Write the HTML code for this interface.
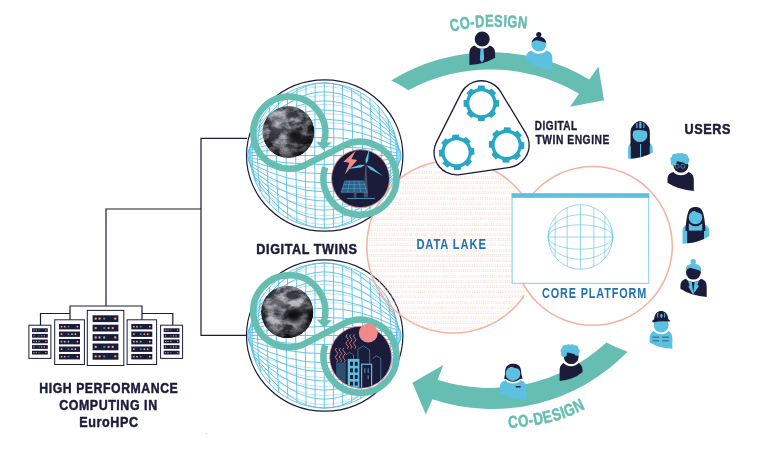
<!DOCTYPE html>
<html lang="en"><head><meta charset="utf-8"><title>Digital Twin Engine</title>
<style>html,body{margin:0;padding:0;background:#fff}body{width:768px;height:463px;overflow:hidden}svg{display:block;will-change:transform}text{font-family:'Liberation Sans', sans-serif}</style>
</head><body>
<svg width="768" height="463" viewBox="0 0 768 463" font-family='"Liberation Sans", sans-serif'>
<defs>
<clipPath id="cc"><circle cx="0" cy="0" r="30.6"/></clipPath>
<radialGradient id="eg" cx="0.42" cy="0.38" r="0.62"><stop offset="0" stop-color="#4a4a52"/><stop offset="0.7" stop-color="#2e2e36"/><stop offset="1" stop-color="#18181e"/></radialGradient>
<radialGradient id="es" cx="0.45" cy="0.42" r="0.58"><stop offset="0.6" stop-color="#000" stop-opacity="0"/><stop offset="1" stop-color="#05050a" stop-opacity="0.7"/></radialGradient><filter id="blur2" x="-0.5" y="-0.5" width="2" height="2"><feGaussianBlur stdDeviation="2.2"/></filter>
<filter id="clouds" x="0" y="0" width="1" height="1"><feTurbulence type="fractalNoise" baseFrequency="0.075 0.11" numOctaves="5" seed="4"/><feColorMatrix type="matrix" values="0 0 0 0 0.62  0 0 0 0 0.62  0 0 0 0 0.66  2.6 2.2 0 0 -2.0"/></filter>
</defs>
<rect width="768" height="463" fill="#fff"/>
<path d="M205.6 434.2l1.6 -1.2" stroke="#c9c9cf" stroke-width="0.7" fill="none"/>
<g fill="none" stroke="#1b1c3a" stroke-width="1.2">
<path d="M247 138.3H201V335.4H247M201 209H106V306M70 320V306H142V320M40.5 325V313.5H70M142 313.5H172.8V325"/>
</g>
<rect x="87.3" y="310.4" width="36.5" height="55.1" fill="#fff" stroke="#1b1c3a" stroke-width="1"/>
<rect x="92.6" y="315.3" width="25.8" height="6.8" fill="#1b1c3a"/>
<circle cx="95.7" cy="318.7" r="1.16" fill="#f2a58c"/>
<circle cx="99.57" cy="318.7" r="1.16" fill="#f2a58c"/>
<circle cx="104.21" cy="318.7" r="1.16" fill="#3a8fa0"/>
<circle cx="115.3" cy="318.7" r="1.16" fill="#f2a58c"/>
<rect x="92.6" y="324.7" width="25.8" height="6.8" fill="#1b1c3a"/>
<circle cx="95.7" cy="328.1" r="1.16" fill="#f2a58c"/>
<circle cx="108.6" cy="328.1" r="1.16" fill="#f2a58c"/>
<circle cx="104.21" cy="328.1" r="1.16" fill="#3a8fa0"/>
<circle cx="112.72" cy="328.1" r="1.16" fill="#f2a58c"/>
<rect x="92.6" y="334.1" width="25.8" height="6.8" fill="#1b1c3a"/>
<circle cx="95.7" cy="337.5" r="1.16" fill="#f2a58c"/>
<circle cx="99.57" cy="337.5" r="1.16" fill="#f2a58c"/>
<circle cx="104.21" cy="337.5" r="1.16" fill="#5fd0b8"/>
<circle cx="115.3" cy="337.5" r="1.16" fill="#f2a58c"/>
<rect x="92.6" y="343.5" width="25.8" height="6.8" fill="#1b1c3a"/>
<circle cx="95.7" cy="346.9" r="1.16" fill="#f2a58c"/>
<circle cx="108.6" cy="346.9" r="1.16" fill="#f2a58c"/>
<circle cx="104.21" cy="346.9" r="1.16" fill="#3a8fa0"/>
<circle cx="112.72" cy="346.9" r="1.16" fill="#f2a58c"/>
<rect x="92.6" y="352.9" width="25.8" height="6.8" fill="#1b1c3a"/>
<circle cx="95.7" cy="356.3" r="1.16" fill="#f2a58c"/>
<circle cx="99.57" cy="356.3" r="1.16" fill="#f2a58c"/>
<circle cx="104.21" cy="356.3" r="1.16" fill="#3a8fa0"/>
<circle cx="115.3" cy="356.3" r="1.16" fill="#f2a58c"/>
<rect x="54.7" y="319.8" width="29.7" height="44.7" fill="#fff" stroke="#1b1c3a" stroke-width="1"/>
<rect x="59" y="324" width="21" height="5.4" fill="#1b1c3a"/>
<circle cx="61.52" cy="326.7" r="0.92" fill="#f2a58c"/>
<circle cx="64.67" cy="326.7" r="0.92" fill="#f2a58c"/>
<circle cx="68.45" cy="326.7" r="0.92" fill="#3a8fa0"/>
<circle cx="77.48" cy="326.7" r="0.92" fill="#f2a58c"/>
<rect x="59" y="331.5" width="21" height="5.4" fill="#1b1c3a"/>
<circle cx="61.52" cy="334.2" r="0.92" fill="#f2a58c"/>
<circle cx="72.02" cy="334.2" r="0.92" fill="#f2a58c"/>
<circle cx="68.45" cy="334.2" r="0.92" fill="#3a8fa0"/>
<circle cx="75.38" cy="334.2" r="0.92" fill="#f2a58c"/>
<rect x="59" y="339" width="21" height="5.4" fill="#1b1c3a"/>
<circle cx="61.52" cy="341.7" r="0.92" fill="#f2a58c"/>
<circle cx="64.67" cy="341.7" r="0.92" fill="#f2a58c"/>
<circle cx="68.45" cy="341.7" r="0.92" fill="#5fd0b8"/>
<circle cx="77.48" cy="341.7" r="0.92" fill="#f2a58c"/>
<rect x="59" y="346.5" width="21" height="5.4" fill="#1b1c3a"/>
<circle cx="61.52" cy="349.2" r="0.92" fill="#f2a58c"/>
<circle cx="72.02" cy="349.2" r="0.92" fill="#f2a58c"/>
<circle cx="68.45" cy="349.2" r="0.92" fill="#3a8fa0"/>
<circle cx="75.38" cy="349.2" r="0.92" fill="#f2a58c"/>
<rect x="59" y="354" width="21" height="5.4" fill="#1b1c3a"/>
<circle cx="61.52" cy="356.7" r="0.92" fill="#f2a58c"/>
<circle cx="64.67" cy="356.7" r="0.92" fill="#f2a58c"/>
<circle cx="68.45" cy="356.7" r="0.92" fill="#3a8fa0"/>
<circle cx="77.48" cy="356.7" r="0.92" fill="#f2a58c"/>
<rect x="127.1" y="319.8" width="29.5" height="44.7" fill="#fff" stroke="#1b1c3a" stroke-width="1"/>
<rect x="131.3" y="324" width="21" height="5.4" fill="#1b1c3a"/>
<circle cx="133.82" cy="326.7" r="0.92" fill="#f2a58c"/>
<circle cx="136.97" cy="326.7" r="0.92" fill="#f2a58c"/>
<circle cx="140.75" cy="326.7" r="0.92" fill="#3a8fa0"/>
<circle cx="149.78" cy="326.7" r="0.92" fill="#f2a58c"/>
<rect x="131.3" y="331.5" width="21" height="5.4" fill="#1b1c3a"/>
<circle cx="133.82" cy="334.2" r="0.92" fill="#f2a58c"/>
<circle cx="144.32" cy="334.2" r="0.92" fill="#f2a58c"/>
<circle cx="140.75" cy="334.2" r="0.92" fill="#3a8fa0"/>
<circle cx="147.68" cy="334.2" r="0.92" fill="#f2a58c"/>
<rect x="131.3" y="339" width="21" height="5.4" fill="#1b1c3a"/>
<circle cx="133.82" cy="341.7" r="0.92" fill="#f2a58c"/>
<circle cx="136.97" cy="341.7" r="0.92" fill="#f2a58c"/>
<circle cx="140.75" cy="341.7" r="0.92" fill="#5fd0b8"/>
<circle cx="149.78" cy="341.7" r="0.92" fill="#f2a58c"/>
<rect x="131.3" y="346.5" width="21" height="5.4" fill="#1b1c3a"/>
<circle cx="133.82" cy="349.2" r="0.92" fill="#f2a58c"/>
<circle cx="144.32" cy="349.2" r="0.92" fill="#f2a58c"/>
<circle cx="140.75" cy="349.2" r="0.92" fill="#3a8fa0"/>
<circle cx="147.68" cy="349.2" r="0.92" fill="#f2a58c"/>
<rect x="131.3" y="354" width="21" height="5.4" fill="#1b1c3a"/>
<circle cx="133.82" cy="356.7" r="0.92" fill="#f2a58c"/>
<circle cx="136.97" cy="356.7" r="0.92" fill="#f2a58c"/>
<circle cx="140.75" cy="356.7" r="0.92" fill="#3a8fa0"/>
<circle cx="149.78" cy="356.7" r="0.92" fill="#f2a58c"/>
<rect x="28.9" y="325.2" width="22" height="33.2" fill="#fff" stroke="#1b1c3a" stroke-width="1"/>
<rect x="32" y="328.3" width="15.8" height="3.8" fill="#1b1c3a"/>
<circle cx="33.9" cy="330.2" r="0.65" fill="#f2a58c"/>
<circle cx="36.27" cy="330.2" r="0.65" fill="#f2a58c"/>
<circle cx="39.11" cy="330.2" r="0.65" fill="#3a8fa0"/>
<circle cx="45.9" cy="330.2" r="0.65" fill="#f2a58c"/>
<rect x="32" y="333.9" width="15.8" height="3.8" fill="#1b1c3a"/>
<circle cx="33.9" cy="335.8" r="0.65" fill="#f2a58c"/>
<circle cx="41.8" cy="335.8" r="0.65" fill="#f2a58c"/>
<circle cx="39.11" cy="335.8" r="0.65" fill="#3a8fa0"/>
<circle cx="44.32" cy="335.8" r="0.65" fill="#f2a58c"/>
<rect x="32" y="339.5" width="15.8" height="3.8" fill="#1b1c3a"/>
<circle cx="33.9" cy="341.4" r="0.65" fill="#f2a58c"/>
<circle cx="36.27" cy="341.4" r="0.65" fill="#f2a58c"/>
<circle cx="39.11" cy="341.4" r="0.65" fill="#5fd0b8"/>
<circle cx="45.9" cy="341.4" r="0.65" fill="#f2a58c"/>
<rect x="32" y="345.1" width="15.8" height="3.8" fill="#1b1c3a"/>
<circle cx="33.9" cy="347" r="0.65" fill="#f2a58c"/>
<circle cx="41.8" cy="347" r="0.65" fill="#f2a58c"/>
<circle cx="39.11" cy="347" r="0.65" fill="#3a8fa0"/>
<circle cx="44.32" cy="347" r="0.65" fill="#f2a58c"/>
<rect x="32" y="350.7" width="15.8" height="3.8" fill="#1b1c3a"/>
<circle cx="33.9" cy="352.6" r="0.65" fill="#f2a58c"/>
<circle cx="36.27" cy="352.6" r="0.65" fill="#f2a58c"/>
<circle cx="39.11" cy="352.6" r="0.65" fill="#3a8fa0"/>
<circle cx="45.9" cy="352.6" r="0.65" fill="#f2a58c"/>
<rect x="160.6" y="325.2" width="22" height="33.2" fill="#fff" stroke="#1b1c3a" stroke-width="1"/>
<rect x="163.7" y="328.3" width="15.8" height="3.8" fill="#1b1c3a"/>
<circle cx="165.6" cy="330.2" r="0.65" fill="#f2a58c"/>
<circle cx="167.97" cy="330.2" r="0.65" fill="#f2a58c"/>
<circle cx="170.81" cy="330.2" r="0.65" fill="#3a8fa0"/>
<circle cx="177.6" cy="330.2" r="0.65" fill="#f2a58c"/>
<rect x="163.7" y="333.9" width="15.8" height="3.8" fill="#1b1c3a"/>
<circle cx="165.6" cy="335.8" r="0.65" fill="#f2a58c"/>
<circle cx="173.5" cy="335.8" r="0.65" fill="#f2a58c"/>
<circle cx="170.81" cy="335.8" r="0.65" fill="#3a8fa0"/>
<circle cx="176.02" cy="335.8" r="0.65" fill="#f2a58c"/>
<rect x="163.7" y="339.5" width="15.8" height="3.8" fill="#1b1c3a"/>
<circle cx="165.6" cy="341.4" r="0.65" fill="#f2a58c"/>
<circle cx="167.97" cy="341.4" r="0.65" fill="#f2a58c"/>
<circle cx="170.81" cy="341.4" r="0.65" fill="#5fd0b8"/>
<circle cx="177.6" cy="341.4" r="0.65" fill="#f2a58c"/>
<rect x="163.7" y="345.1" width="15.8" height="3.8" fill="#1b1c3a"/>
<circle cx="165.6" cy="347" r="0.65" fill="#f2a58c"/>
<circle cx="173.5" cy="347" r="0.65" fill="#f2a58c"/>
<circle cx="170.81" cy="347" r="0.65" fill="#3a8fa0"/>
<circle cx="176.02" cy="347" r="0.65" fill="#f2a58c"/>
<rect x="163.7" y="350.7" width="15.8" height="3.8" fill="#1b1c3a"/>
<circle cx="165.6" cy="352.6" r="0.65" fill="#f2a58c"/>
<circle cx="167.97" cy="352.6" r="0.65" fill="#f2a58c"/>
<circle cx="170.81" cy="352.6" r="0.65" fill="#3a8fa0"/>
<circle cx="177.6" cy="352.6" r="0.65" fill="#f2a58c"/>
<clipPath id="gc1"><ellipse cx="324.7" cy="155.5" rx="77.60000000000001" ry="75.10000000000001"/></clipPath>
<ellipse cx="324.7" cy="155.5" rx="78.2" ry="75.7" fill="#fff" stroke="#1b1c3a" stroke-width="1.2"/>
<g clip-path="url(#gc1)">
<g fill="none" stroke="#58bfe3" stroke-width="0.9">
<path d="M251.5 144.24Q244.22 155.5 251.5 166.76"/>
<path d="M260.6 119.14Q254.23 155.5 260.6 191.86"/>
<path d="M269.7 106.94Q264.24 155.5 269.7 204.06"/>
<path d="M278.8 98.62Q274.25 155.5 278.8 212.38"/>
<path d="M287.9 92.63Q284.26 155.5 287.9 218.37"/>
<path d="M297 88.34Q294.27 155.5 297 222.66"/>
<path d="M306.1 85.44Q304.28 155.5 306.1 225.56"/>
<path d="M315.2 83.75Q314.29 155.5 315.2 227.25"/>
<path d="M324.3 83.2Q324.3 155.5 324.3 227.8"/>
<path d="M333.4 83.75Q334.31 155.5 333.4 227.25"/>
<path d="M342.5 85.44Q344.32 155.5 342.5 225.56"/>
<path d="M351.6 88.34Q354.33 155.5 351.6 222.66"/>
<path d="M360.7 92.63Q364.34 155.5 360.7 218.37"/>
<path d="M369.8 98.62Q374.35 155.5 369.8 212.38"/>
<path d="M378.9 106.94Q384.36 155.5 378.9 204.06"/>
<path d="M388 119.14Q394.37 155.5 388 191.86"/>
<path d="M397.1 144.24Q404.38 155.5 397.1 166.76"/>
<path d="M393.21 129.86Q400.1 155.5 393.21 181.14"/>
<path d="M255.39 129.86Q248.5 155.5 255.39 181.14"/>
<path d="M395.79 137.92Q402.94 155.5 395.79 173.08"/>
<path d="M252.81 137.92Q245.66 155.5 252.81 173.08"/>
<path d="M397.41 146.37Q404.72 155.5 397.41 164.63"/>
<path d="M251.19 146.37Q243.88 155.5 251.19 164.63"/>
<path d="M254.04 133.66Q324.3 31.74 394.56 133.66"/>
<path d="M253.22 136.39Q324.3 47.21 395.38 136.39"/>
<path d="M252.52 139.12Q324.3 62.68 396.08 139.12"/>
<path d="M251.93 141.85Q324.3 78.15 396.67 141.85"/>
<path d="M251.45 144.58Q324.3 93.62 397.15 144.58"/>
<path d="M251.07 147.31Q324.3 109.09 397.53 147.31"/>
<path d="M250.81 150.04Q324.3 124.56 397.79 150.04"/>
<path d="M250.65 152.77Q324.3 140.03 397.95 152.77"/>
<path d="M250.6 155.5Q324.3 155.5 398 155.5"/>
<path d="M250.65 158.23Q324.3 170.97 397.95 158.23"/>
<path d="M250.81 160.96Q324.3 186.44 397.79 160.96"/>
<path d="M251.07 163.69Q324.3 201.91 397.53 163.69"/>
<path d="M251.45 166.42Q324.3 217.38 397.15 166.42"/>
<path d="M251.93 169.15Q324.3 232.85 396.67 169.15"/>
<path d="M252.52 171.88Q324.3 248.32 396.08 171.88"/>
<path d="M253.22 174.61Q324.3 263.79 395.38 174.61"/>
<path d="M254.04 177.34Q324.3 279.26 394.56 177.34"/>
<ellipse cx="324.3" cy="155.5" rx="73.7" ry="72.3"/>
</g>
<g fill="none" stroke="#58bfe3" stroke-width="0.55" opacity="0.75">
<path d="M261.71 117.33Q324.3 54.87 386.89 117.33"/>
<path d="M258.81 122.34Q324.3 68.06 389.79 122.34"/>
<path d="M256.42 127.34Q324.3 81.26 392.18 127.34"/>
<path d="M254.48 132.34Q324.3 94.45 394.12 132.34"/>
<path d="M252.96 137.35Q324.3 107.65 395.64 137.35"/>
<path d="M252.96 173.65Q324.3 203.35 395.64 173.65"/>
<path d="M254.48 178.66Q324.3 216.54 394.12 178.66"/>
<path d="M256.42 183.66Q324.3 229.74 392.18 183.66"/>
<path d="M258.81 188.66Q324.3 242.94 389.79 188.66"/>
<path d="M261.71 193.67Q324.3 256.13 386.89 193.67"/>
</g>
</g>
<clipPath id="gc2"><ellipse cx="324.7" cy="335.5" rx="77.60000000000001" ry="75.10000000000001"/></clipPath>
<ellipse cx="324.7" cy="335.5" rx="78.2" ry="75.7" fill="#fff" stroke="#1b1c3a" stroke-width="1.2"/>
<g clip-path="url(#gc2)">
<g fill="none" stroke="#58bfe3" stroke-width="0.9">
<path d="M251.5 324.24Q244.22 335.5 251.5 346.76"/>
<path d="M260.6 299.14Q254.23 335.5 260.6 371.86"/>
<path d="M269.7 286.94Q264.24 335.5 269.7 384.06"/>
<path d="M278.8 278.62Q274.25 335.5 278.8 392.38"/>
<path d="M287.9 272.63Q284.26 335.5 287.9 398.37"/>
<path d="M297 268.34Q294.27 335.5 297 402.66"/>
<path d="M306.1 265.44Q304.28 335.5 306.1 405.56"/>
<path d="M315.2 263.75Q314.29 335.5 315.2 407.25"/>
<path d="M324.3 263.2Q324.3 335.5 324.3 407.8"/>
<path d="M333.4 263.75Q334.31 335.5 333.4 407.25"/>
<path d="M342.5 265.44Q344.32 335.5 342.5 405.56"/>
<path d="M351.6 268.34Q354.33 335.5 351.6 402.66"/>
<path d="M360.7 272.63Q364.34 335.5 360.7 398.37"/>
<path d="M369.8 278.62Q374.35 335.5 369.8 392.38"/>
<path d="M378.9 286.94Q384.36 335.5 378.9 384.06"/>
<path d="M388 299.14Q394.37 335.5 388 371.86"/>
<path d="M397.1 324.24Q404.38 335.5 397.1 346.76"/>
<path d="M393.21 309.86Q400.1 335.5 393.21 361.14"/>
<path d="M255.39 309.86Q248.5 335.5 255.39 361.14"/>
<path d="M395.79 317.92Q402.94 335.5 395.79 353.08"/>
<path d="M252.81 317.92Q245.66 335.5 252.81 353.08"/>
<path d="M397.41 326.37Q404.72 335.5 397.41 344.63"/>
<path d="M251.19 326.37Q243.88 335.5 251.19 344.63"/>
<path d="M254.04 313.66Q324.3 211.74 394.56 313.66"/>
<path d="M253.22 316.39Q324.3 227.21 395.38 316.39"/>
<path d="M252.52 319.12Q324.3 242.68 396.08 319.12"/>
<path d="M251.93 321.85Q324.3 258.15 396.67 321.85"/>
<path d="M251.45 324.58Q324.3 273.62 397.15 324.58"/>
<path d="M251.07 327.31Q324.3 289.09 397.53 327.31"/>
<path d="M250.81 330.04Q324.3 304.56 397.79 330.04"/>
<path d="M250.65 332.77Q324.3 320.03 397.95 332.77"/>
<path d="M250.6 335.5Q324.3 335.5 398 335.5"/>
<path d="M250.65 338.23Q324.3 350.97 397.95 338.23"/>
<path d="M250.81 340.96Q324.3 366.44 397.79 340.96"/>
<path d="M251.07 343.69Q324.3 381.91 397.53 343.69"/>
<path d="M251.45 346.42Q324.3 397.38 397.15 346.42"/>
<path d="M251.93 349.15Q324.3 412.85 396.67 349.15"/>
<path d="M252.52 351.88Q324.3 428.32 396.08 351.88"/>
<path d="M253.22 354.61Q324.3 443.79 395.38 354.61"/>
<path d="M254.04 357.34Q324.3 459.26 394.56 357.34"/>
<ellipse cx="324.3" cy="335.5" rx="73.7" ry="72.3"/>
</g>
<g fill="none" stroke="#58bfe3" stroke-width="0.55" opacity="0.75">
<path d="M261.71 297.33Q324.3 234.87 386.89 297.33"/>
<path d="M258.81 302.33Q324.3 248.06 389.79 302.33"/>
<path d="M256.42 307.34Q324.3 261.26 392.18 307.34"/>
<path d="M254.48 312.35Q324.3 274.46 394.12 312.35"/>
<path d="M252.96 317.35Q324.3 287.65 395.64 317.35"/>
<path d="M252.96 353.65Q324.3 383.35 395.64 353.65"/>
<path d="M254.48 358.65Q324.3 396.54 394.12 358.65"/>
<path d="M256.42 363.66Q324.3 409.74 392.18 363.66"/>
<path d="M258.81 368.67Q324.3 422.94 389.79 368.67"/>
<path d="M261.71 373.67Q324.3 436.13 386.89 373.67"/>
</g>
</g>
<clipPath id="dl"><circle cx="453.2" cy="246.6" r="86.4"/></clipPath>
<g clip-path="url(#dl)" font-family="Liberation Mono, monospace" font-size="4.4" fill="#f8d3c5" opacity="0.8">
<text x="365.79999999999995" y="163.2" textLength="174.8" lengthAdjust="spacingAndGlyphs">10100010000110001000010000110010001000011111110000111110010101100111</text>
<text x="365.79999999999995" y="168.4" textLength="174.8" lengthAdjust="spacingAndGlyphs">11001100111110110010010011100111011111000000001011001110011111011000</text>
<text x="365.79999999999995" y="173.6" textLength="174.8" lengthAdjust="spacingAndGlyphs">01001000001000101111001111100011100010010110101000100110011101111000</text>
<text x="365.79999999999995" y="178.8" textLength="174.8" lengthAdjust="spacingAndGlyphs">01010101100101011011100000010110000001000101011100111000100000100110</text>
<text x="365.79999999999995" y="184" textLength="174.8" lengthAdjust="spacingAndGlyphs">00010010011011101010101110010010010101001100011110110101110111000001</text>
<text x="365.79999999999995" y="189.2" textLength="174.8" lengthAdjust="spacingAndGlyphs">10010111011010010100100010101110000010001101101101000010101111001001</text>
<text x="365.79999999999995" y="194.4" textLength="174.8" lengthAdjust="spacingAndGlyphs">10000110001101010011011110010100110110000100101011000111010010000000</text>
<text x="365.79999999999995" y="199.6" textLength="174.8" lengthAdjust="spacingAndGlyphs">10110001101000110100011101100001110010110011111100101011011100000110</text>
<text x="365.79999999999995" y="204.8" textLength="174.8" lengthAdjust="spacingAndGlyphs">10101110001111011110101110001110110111010010011101101000110110001111</text>
<text x="365.79999999999995" y="210" textLength="174.8" lengthAdjust="spacingAndGlyphs">11110111000001011110000010101100111011101110001011111000111001110000</text>
<text x="365.79999999999995" y="215.2" textLength="174.8" lengthAdjust="spacingAndGlyphs">00100000010110001011000111101000110001101011010111100100101001011010</text>
<text x="365.79999999999995" y="220.4" textLength="174.8" lengthAdjust="spacingAndGlyphs">01100100001000111000100101111100001011001111001011011101010101001001</text>
<text x="365.79999999999995" y="225.6" textLength="174.8" lengthAdjust="spacingAndGlyphs">11101111000001111110100100111100100100110100100011100011001111111010</text>
<text x="365.79999999999995" y="230.8" textLength="174.8" lengthAdjust="spacingAndGlyphs">00001010110001000101101000000101100100110001000111010001101010001111</text>
<text x="365.79999999999995" y="236" textLength="174.8" lengthAdjust="spacingAndGlyphs">11011110101100101001110000010100110000110100110100010100010110000001</text>
<text x="365.79999999999995" y="241.2" textLength="174.8" lengthAdjust="spacingAndGlyphs">01111101111100011011011000111010000100100000011000110111011010110001</text>
<text x="365.79999999999995" y="246.4" textLength="174.8" lengthAdjust="spacingAndGlyphs">01110100110111111011010001111000011110010000011010110011000001000111</text>
<text x="365.79999999999995" y="251.6" textLength="174.8" lengthAdjust="spacingAndGlyphs">00111000000100000000101010101011101000100011011110000100010110111001</text>
<text x="365.79999999999995" y="256.8" textLength="174.8" lengthAdjust="spacingAndGlyphs">01010000000010000000001001000000001100001111101110111101010110001010</text>
<text x="365.79999999999995" y="262" textLength="174.8" lengthAdjust="spacingAndGlyphs">01001101011101001000101101101010111010100110110111001100110001100101</text>
<text x="365.79999999999995" y="267.2" textLength="174.8" lengthAdjust="spacingAndGlyphs">00001001111000101100110110011001100001111010101111010101100100010101</text>
<text x="365.79999999999995" y="272.4" textLength="174.8" lengthAdjust="spacingAndGlyphs">01111001010111100011110011011000001001111011011110101101111101011001</text>
<text x="365.79999999999995" y="277.6" textLength="174.8" lengthAdjust="spacingAndGlyphs">01000011000011001001010010011001101101010001111111100100010110001010</text>
<text x="365.79999999999995" y="282.8" textLength="174.8" lengthAdjust="spacingAndGlyphs">11101111101111111101010110001101100001010000100001001011101010101001</text>
<text x="365.79999999999995" y="288" textLength="174.8" lengthAdjust="spacingAndGlyphs">11001011001000100000001010100100111100000011101011110001011111111010</text>
<text x="365.79999999999995" y="293.2" textLength="174.8" lengthAdjust="spacingAndGlyphs">01101110110111100100111011001011010110100111100000011110001101100101</text>
<text x="365.79999999999995" y="298.4" textLength="174.8" lengthAdjust="spacingAndGlyphs">10000101110101010010000111010011001010100001100011000100110111110111</text>
<text x="365.79999999999995" y="303.6" textLength="174.8" lengthAdjust="spacingAndGlyphs">01000100000101010011101010100010101110001110110111000011010111000111</text>
<text x="365.79999999999995" y="308.8" textLength="174.8" lengthAdjust="spacingAndGlyphs">00100110101011010100000000110000100010111100110100100101100101101011</text>
<text x="365.79999999999995" y="314" textLength="174.8" lengthAdjust="spacingAndGlyphs">00000000011000010101010001011100010000110011010111011110101010100011</text>
<text x="365.79999999999995" y="319.2" textLength="174.8" lengthAdjust="spacingAndGlyphs">00001110001100100100101100010101001111001101011111100100110100111110</text>
<text x="365.79999999999995" y="324.4" textLength="174.8" lengthAdjust="spacingAndGlyphs">10000110111000111001011010010110110111111111101111010110011010100011</text>
<text x="365.79999999999995" y="329.6" textLength="174.8" lengthAdjust="spacingAndGlyphs">11111110110000111001111100111010011101001000101001011000001100100000</text>
<text x="365.79999999999995" y="334.8" textLength="174.8" lengthAdjust="spacingAndGlyphs">00011100100110010010110001010000000101111100101111000001100111011110</text>
</g>
<circle cx="453.2" cy="246.6" r="86.4" fill="none" stroke="#f3b5a0" stroke-width="1.6"/>
<rect x="524.3" y="284" width="24" height="14.2" fill="#fff"/>
<circle cx="592.9" cy="245.9" r="79.4" fill="#fff" stroke="#f3b5a0" stroke-width="1.6"/>
<rect x="512.1" y="194" width="136.6" height="89.3" fill="#fff" stroke="#7fcde8" stroke-width="1"/>
<rect x="511.6" y="193.3" width="137.6" height="4.5" fill="#5cc0e0"/>
<g fill="none" stroke="#58bfe3" stroke-width="0.6">
<circle cx="580.5" cy="237" r="32.3"/>
<line x1="555.1" y1="217.05" x2="555.1" y2="256.95"/>
<line x1="567.2" y1="207.57" x2="567.2" y2="266.43"/>
<line x1="580.5" y1="204.7" x2="580.5" y2="269.3"/>
<line x1="593.8" y1="207.57" x2="593.8" y2="266.43"/>
<line x1="604.9" y1="215.84" x2="604.9" y2="258.16"/>
<line x1="548.2" y1="237" x2="612.8" y2="237"/>
<ellipse cx="580.5" cy="237" rx="32.3" ry="12.2"/>
<ellipse cx="580.5" cy="237" rx="32.3" ry="22.3"/>
</g>
<path d="M323.73 143.13A36 36 0 1 0 305.4 164.8L343.67 145.66A36.5 36.5 0 1 1 325.19 167.32" fill="none" stroke="#65beb1" stroke-width="6.5"/>
<polygon points="316,141.7 331.8,142.5 323.2,149.9" fill="#65beb1"/>
<clipPath id="ec1"><circle cx="288.4" cy="132" r="26"/></clipPath>
<g clip-path="url(#ec1)">
<circle cx="288.4" cy="132" r="26" fill="url(#eg)"/>
<rect x="262.4" y="106" width="52" height="52" filter="url(#clouds)" opacity="0.85"/>
<ellipse cx="295.4" cy="136" rx="8.5" ry="7" fill="#08080e" opacity="0.9" filter="url(#blur2)"/>
<ellipse cx="279.4" cy="122" rx="9" ry="5" fill="#c8c8d0" opacity="0.3" filter="url(#blur2)" transform="rotate(-25 279.4 122)"/>
<circle cx="288.4" cy="132" r="26" fill="url(#es)"/>
</g>
<circle cx="360.5" cy="178.6" r="29" fill="#1b1c3a" stroke="#f08a8a" stroke-width="0.8"/>
<g transform="translate(360.5,178.6)">
<polygon points="-4.7,-28 -17.1,-16.9 -11.1,-15.8 -15.7,-4.1 -3.3,-18.6 -9,-19.5" fill="#f08a8a"/>
<polygon points="4.7,-13.8 5.9,-13.8 7.6,18.6 3.2,18.6" fill="#4b4c6c"/>
<polygon points="5.3,-13.8 7.67,-18.28 8.8,-29.7 5.03,-18.86" fill="#5cc0e0"/>
<polygon points="5.3,-13.8 9.69,-9.34 22.4,-2.7 11.17,-11.6" fill="#5cc0e0"/>
<polygon points="5.3,-13.8 -0.58,-13.83 -13.3,-9.5 0.02,-11.19" fill="#5cc0e0"/>
<circle cx="5.3" cy="-13.8" r="1.3" fill="#1b1c3a"/>
<polygon points="-15.7,2.3 3.1,2.3 6.7,13.7 -19.4,13.7" fill="#2c5f86"/>
<g stroke="#63b7d8" stroke-width="0.55" fill="none" opacity="0.85">
<line x1="-15.7" y1="2.3" x2="3.1" y2="2.3"/>
<line x1="-16.92" y1="6.06" x2="4.29" y2="6.06"/>
<line x1="-18.14" y1="9.82" x2="5.48" y2="9.82"/>
<line x1="-19.4" y1="13.7" x2="6.7" y2="13.7"/>
<line x1="-15.7" y1="2.3" x2="-19.4" y2="13.7"/>
<line x1="-11" y1="2.3" x2="-12.87" y2="13.7"/>
<line x1="-6.3" y1="2.3" x2="-6.35" y2="13.7"/>
<line x1="-1.6" y1="2.3" x2="0.18" y2="13.7"/>
<line x1="3.1" y1="2.3" x2="6.7" y2="13.7"/>
</g>
<rect x="-6.8" y="13.9" width="2.8" height="5" fill="#4b4c6c"/>
<line x1="-13.3" y1="19.9" x2="14.5" y2="19.9" stroke="#5cc0e0" stroke-width="0.7"/>
</g>
<path d="M323.73 321.73A36 36 0 1 0 305.81 343.19L343.26 323.86A36.5 36.5 0 1 1 325.19 345.32" fill="none" stroke="#65beb1" stroke-width="6.5"/>
<polygon points="316.7,319.4 331.8,320.2 324.2,328" fill="#65beb1"/>
<clipPath id="ec2"><circle cx="287.2" cy="312" r="26.2"/></clipPath>
<g clip-path="url(#ec2)">
<circle cx="287.2" cy="312" r="26.2" fill="url(#eg)"/>
<rect x="261" y="285.8" width="52.4" height="52.4" filter="url(#clouds)" opacity="0.85"/>
<ellipse cx="294.2" cy="316" rx="8.5" ry="7" fill="#08080e" opacity="0.9" filter="url(#blur2)"/>
<ellipse cx="278.2" cy="302" rx="9" ry="5" fill="#c8c8d0" opacity="0.3" filter="url(#blur2)" transform="rotate(-25 278.2 302)"/>
<circle cx="287.2" cy="312" r="26.2" fill="url(#es)"/>
</g>
<circle cx="360.6" cy="357.2" r="31" fill="#1b1c3a" stroke="#f08a8a" stroke-width="0.8"/>
<g transform="translate(360.6,357.2)">
<g clip-path="url(#cc)">
<g fill="none" stroke="#f08a8a" stroke-width="0.85">
<path d="M-13.4 -22.8q-2.6 1.8 0 3.6t0 3.6t0 3.6t0 3.6"/>
<path d="M-9.8 -22.8q-2.6 1.8 0 3.6t0 3.6t0 3.6t0 3.6"/>
<path d="M-5.9 -22.8q-2.6 1.8 0 3.6t0 3.6t0 3.6t0 3.6"/>
<path d="M-24 -9.2q-2.6 1.8 0 3.6t0 3.6t0 3.6t0 3.6"/>
<path d="M-20.2 -9.2q-2.6 1.8 0 3.6t0 3.6t0 3.6t0 3.6"/>
<path d="M-16.6 -9.2q-2.6 1.8 0 3.6t0 3.6t0 3.6t0 3.6"/>
</g>
<g fill="none" stroke="#4fa8cc" stroke-width="0.6">
<path d="M-15 -2.2L-11.2 -4.9L-7 -2.3V2"/>
<path d="M-2.7 2V-8L3 -11.4L9 -7.2V7"/>
<path d="M11.9 1.2L15.9 -1.3L20.2 1.2V24"/>
</g>
<rect x="-24.5" y="5.4" width="9.7" height="30" fill="#2d4f70"/>
<rect x="-12.9" y="1.7" width="11.7" height="34" fill="#5cc0e0"/>
<g fill="#1b1c3a">
<rect x="-10.5" y="4.6" width="2.85" height="4"/>
<rect x="-5.8" y="4.6" width="2.85" height="4"/>
<rect x="-10.5" y="11.2" width="2.85" height="4"/>
<rect x="-5.8" y="11.2" width="2.85" height="4"/>
<rect x="-10.5" y="17.8" width="2.85" height="4"/>
<rect x="-5.8" y="17.8" width="2.85" height="4"/>
<rect x="-10.5" y="24.4" width="2.85" height="4"/>
<rect x="-5.8" y="24.4" width="2.85" height="4"/>
<rect x="-10.5" y="31" width="2.85" height="4"/>
<rect x="-5.8" y="31" width="2.85" height="4"/>
</g>
<rect x="1" y="7" width="10" height="30" fill="#1b1c3a" stroke="#5cc0e0" stroke-width="1.2"/>
<path d="M4.2 11v4.6M7.6 11v4.6M7.6 18.2v3.8" stroke="#5cc0e0" stroke-width="0.8" fill="none"/>
</g>
<circle cx="7.7" cy="-24.2" r="9.5" fill="#f08a8a"/>
</g>
<path d="M481.3 103.3L456.6 152.3L506.6 145Z" fill="#1b1c3a" stroke="#1b1c3a" stroke-width="46.4" stroke-linejoin="round"/>
<path d="M481.3 103.3L456.6 152.3L506.6 145Z" fill="#fff" stroke="#fff" stroke-width="43.8" stroke-linejoin="round"/>
<path d="M499.01 100.07L499.01 106.53L496.37 106.92L494.52 111.4L496.11 113.53L491.53 118.11L489.4 116.52L484.92 118.37L484.53 121.01L478.07 121.01L477.68 118.37L473.2 116.52L471.07 118.11L466.49 113.53L468.08 111.4L466.23 106.92L463.59 106.53L463.59 100.07L466.23 99.68L468.08 95.2L466.49 93.07L471.07 88.49L473.2 90.08L477.68 88.23L478.07 85.59L484.53 85.59L484.92 88.23L489.4 90.08L491.53 88.49L496.11 93.07L494.52 95.2L496.37 99.68ZM493.3 103.3A12 12 0 1 0 469.3 103.3A12 12 0 1 0 493.3 103.3Z" fill="#27a7c4" fill-rule="evenodd"/>
<path d="M474.08 148.01L474.47 154.47L471.86 155.01L470.28 159.59L471.99 161.63L467.7 166.47L465.48 165.01L461.12 167.13L460.89 169.78L454.43 170.17L453.89 167.56L449.31 165.98L447.27 167.69L442.43 163.4L443.89 161.18L441.77 156.82L439.12 156.59L438.73 150.13L441.34 149.59L442.92 145.01L441.21 142.97L445.5 138.13L447.72 139.59L452.08 137.47L452.31 134.82L458.77 134.43L459.31 137.04L463.89 138.62L465.93 136.91L470.77 141.2L469.31 143.42L471.43 147.78ZM468.6 152.3A12 12 0 1 0 444.6 152.3A12 12 0 1 0 468.6 152.3Z" fill="#27a7c4" fill-rule="evenodd"/>
<path d="M524.42 142.48L524.16 148.94L521.51 149.22L519.48 153.62L520.99 155.82L516.23 160.2L514.16 158.53L509.61 160.2L509.12 162.82L502.66 162.56L502.38 159.91L497.98 157.88L495.78 159.39L491.4 154.63L493.07 152.56L491.4 148.01L488.78 147.52L489.04 141.06L491.69 140.78L493.72 136.38L492.21 134.18L496.97 129.8L499.04 131.47L503.59 129.8L504.08 127.18L510.54 127.44L510.82 130.09L515.22 132.12L517.42 130.61L521.8 135.37L520.13 137.44L521.8 141.99ZM518.6 145A12 12 0 1 0 494.6 145A12 12 0 1 0 518.6 145Z" fill="#27a7c4" fill-rule="evenodd"/>
<path d="M391.1 80.58A190.0 190.0 0 0 1 589.24 79.57L598.4 66.6L604 100.3L570 106.8L578.94 93.7A173.1 173.1 0 0 0 408.28 90.17Q400.59 84.88 391.1 80.58Z" fill="#65beb1"/>
<path d="M437.5 379.69A172.0 172.0 0 0 0 606.42 342.51Q616.1 347.69 627.57 351.86A188.7 188.7 0 0 1 432.42 399.25L425.8 414.6L412.4 382.8L443.3 365.1Z" fill="#65beb1"/>
<g transform="translate(482.2,39)">
<path d="M-12.8 26L-12.8 14.6C-12.8 9.8 -10.6 7.5 -7.6 6.6A10.5 10.5 0 0 0 7.6 6.6C10.7 7.5 12.9 9.8 12.9 14.6L12.9 18.8Q2.05 25.38 -12.8 26Z" fill="#1b1c3a"/>
<circle cx="0" cy="0" r="7.5" fill="#1b1c3a"/>
<path d="M-1.7 10.1h3.1l0.5 10.6l-2.2 3l-2 -3z" fill="#5cc0e0"/>
</g>
<g transform="translate(538.9,44)">
<path d="M-12.8 16.8L-12.8 14.6C-12.8 9.8 -10.6 7.5 -7.6 6.6A10.5 10.5 0 0 0 7.6 6.6C11.2 7.5 13.4 9.8 13.4 14.6L13.4 25.8Q-1.7 24.87 -12.8 16.8Z" fill="#5cc0e0"/>
<circle cx="0" cy="0" r="7.5" fill="#5cc0e0"/>
<path d="M-7.4 -1.3A7.5 7.5 0 0 1 7.4 -1.3Q3 -2.2 1.5 -2.9Q-1 -3.8 -2.8 -3.8Q-5.5 -3.4 -7.4 -1.3Z" fill="#1b1c3a"/><circle cx="-0.1" cy="-9.5" r="2.6" fill="#1b1c3a"/>
</g>
<g transform="translate(640,134.7)">
<clipPath id="pb3"><path d="M-11.9 24.1L-11.9 15.2C-11.9 10.4 -9.7 8.1 -7.6 7.2A10.5 10.5 0 0 0 7.6 7.2C10.6 8.1 12.8 10.4 12.8 15.2L12.8 17.9Q2.45 23.65 -11.9 24.1Z"/></clipPath>
<path d="M-11.9 24.1L-11.9 15.2C-11.9 10.4 -9.7 8.1 -7.6 7.2A10.5 10.5 0 0 0 7.6 7.2C10.6 8.1 12.8 10.4 12.8 15.2L12.8 17.9Q2.45 23.65 -11.9 24.1Z" fill="#5cc0e0"/>
<g clip-path="url(#pb3)"><path d="M-9.2 0h18.9v30h-18.9z" fill="#1b1c3a"/></g>
<path d="M-9.5 11.5L-9.5 -2C-9.5 -5.6 -8.4 -7.6 -6.8 -9.4C-4.8 -12.2 -2.5 -13.5 0.3 -13.5S5.2 -12.2 7.2 -9.4C8.8 -7.6 9.9 -5.6 9.9 -2L9.9 11.5Z" fill="#1b1c3a"/>
<circle cx="0" cy="0" r="7.4" fill="#5cc0e0"/>
<path d="M-7.7 -3.6Q0 -6.2 7.7 -3.2L8.6 -7Q4 -13.6 0.3 -13.5Q-4.5 -13.6 -8.2 -7Z" fill="#1b1c3a"/><path d="M-3.7 -11.6h1.2v4.8h-1.2zM-0.7 -12.7h2.1v6.2h-2.1zM3.4 -11.4h1v4.6h-1zM0 9.4h1v12.7h-1z" fill="#5cc0e0"/>
</g>
<g transform="translate(680.9,165.3)">
<path d="M-13.4 17.5L-13.4 14.6C-13.4 9.8 -11.2 7.5 -7.6 6.6A10.5 10.5 0 0 0 7.6 6.6C10.7 7.5 12.9 9.8 12.9 14.6L12.9 25.6Q-2.25 24.82 -13.4 17.5Z" fill="#1b1c3a"/>
<circle cx="0" cy="0" r="7.5" fill="#1b1c3a"/>
<g fill="#5cc0e0"><path d="M-8.6 -0.6L-3.6 -4.1L7.3 -1.6L6.5 -8L0 -10.5L-7 -8.5Z"/><circle cx="-7.2" cy="-2.6" r="2.9"/><circle cx="-8" cy="-6" r="2.6"/><circle cx="-6" cy="-8.6" r="3"/><circle cx="-2.6" cy="-9.6" r="2.8"/><circle cx="1" cy="-9.8" r="2.6"/><circle cx="4.2" cy="-8.6" r="2.8"/><circle cx="5.9" cy="-5.8" r="2.6"/><circle cx="5.6" cy="-3.2" r="2.2"/></g><g fill="none" stroke="#5cc0e0" stroke-width="0.65"><rect x="-5.7" y="-0.9" width="3.7" height="3.7" rx="1.2"/><rect x="0.2" y="-0.9" width="3.7" height="3.7" rx="1.2"/></g>
</g>
<g transform="translate(695.5,217.5)">
<clipPath id="pb5"><path d="M-13 26.3L-13 14.6C-13 9.8 -10.8 7.5 -7.6 6.6A10.5 10.5 0 0 0 7.6 6.6C11.6 7.5 13.8 9.8 13.8 14.6L13.8 18.7Q2.4 25.61 -13 26.3Z"/></clipPath>
<path d="M-13 26.3L-13 14.6C-13 9.8 -10.8 7.5 -7.6 6.6A10.5 10.5 0 0 0 7.6 6.6C11.6 7.5 13.8 9.8 13.8 14.6L13.8 18.7Q2.4 25.61 -13 26.3Z" fill="#5cc0e0"/>
<g clip-path="url(#pb5)"><path d="M-8.3 12.8h16.8v20h-16.8z" fill="#1b1c3a"/></g>
<path d="M-6.8 5h13.6v8h-13.6z" fill="#5cc0e0"/><path d="M-10 13.4C-9.6 4 -8.6 -1 -7.6 -4.5C-6 -9.6 -3 -10.4 0 -10.4S6 -9.6 7.6 -4.5C8.6 -1 9.6 4 10 13.4L6.7 13.4L6.7 6Q0 11.6 -6.7 6L-6.7 13.4Z" fill="#1b1c3a"/>
<circle cx="0" cy="0" r="6.8" fill="#5cc0e0"/>
<path d="M-3.4 -8.2Q1 -4.4 7 -3.2Q6.6 -7.5 3 -9.2Q0 -10.2 -3.4 -8.2Z" fill="#1b1c3a"/>
</g>
<g transform="translate(693.4,272.2)">
<clipPath id="pb6"><path d="M-13 16.6L-13 14.6C-13 9.8 -10.8 7.5 -7.6 6.6A10.5 10.5 0 0 0 7.6 6.6C11.1 7.5 13.3 9.8 13.3 14.6L13.3 24.7Q-1.85 23.92 -13 16.6Z"/></clipPath>
<path d="M-13 16.6L-13 14.6C-13 9.8 -10.8 7.5 -7.6 6.6A10.5 10.5 0 0 0 7.6 6.6C11.1 7.5 13.3 9.8 13.3 14.6L13.3 24.7Q-1.85 23.92 -13 16.6Z" fill="#1b1c3a"/>
<g clip-path="url(#pb6)"><path d="M-6.6 5L-3.8 13.3L-5 14.3L-0.5 22.2L5.5 14.1L4 12.8L6.6 5Q0 11 -6.6 5Z" fill="#5cc0e0"/><path d="M-1.6 9.4h2.8L-0.2 21Z" fill="#1b1c3a"/></g>
<circle cx="0" cy="0" r="7.4" fill="#1b1c3a"/>
<path d="M-7.7 -1.6C-8.4 -6 -5 -8.4 0 -8.4S8.4 -6 7.7 -1.2Q3 -2.6 -3.2 -4.4Q-5.6 -3.6 -7.7 -1.6Z" fill="#5cc0e0"/><circle cx="-0.2" cy="-10.5" r="2.7" fill="#5cc0e0"/>
</g>
<g transform="translate(661.2,325)">
<clipPath id="pb7"><path d="M-11.6 17.6L-11.6 13.9C-11.6 9.1 -9.4 6.8 -7.6 5.9A10.5 10.5 0 0 0 7.6 5.9C9 6.8 11.2 9.1 11.2 13.9L11.2 23.8Q-2.2 23.35 -11.6 17.6Z"/></clipPath>
<path d="M-11.6 17.6L-11.6 13.9C-11.6 9.1 -9.4 6.8 -7.6 5.9A10.5 10.5 0 0 0 7.6 5.9C9 6.8 11.2 9.1 11.2 13.9L11.2 23.8Q-2.2 23.35 -11.6 17.6Z" fill="#5cc0e0"/>
<g clip-path="url(#pb7)"><path d="M-8.6 11.5h6.4v1.5h-6.4zM0.9 11.5h6.7v1.5h-6.7zM-8.6 15h6.4v1.5h-6.4zM0.9 15h6.7v1.5h-6.7z" fill="#3d7f9a"/></g>
<circle cx="0" cy="0" r="7.5" fill="#5cc0e0"/>
<path d="M-9.1 -4.3Q-7.4 -5 -7 -6.6C-6.4 -11.6 -3.4 -14 0 -14S6.4 -11.6 7 -6.6Q7.4 -5 9.2 -4.3L8.6 -3.4Q0 -4.6 -7.8 -2.6Q-9.5 -3.4 -9.1 -4.3Z" fill="#1b1c3a"/><ellipse cx="0.2" cy="-9.2" rx="1.2" ry="1.9" fill="#5cc0e0"/><path d="M-3.9 -12h0.9v4.6h-0.9zM3 -12h0.9v4.6h-0.9z" fill="#5cc0e0"/>
</g>
<g transform="translate(513,373.7)">
<clipPath id="pb8"><path d="M-13.2 19.5L-13.2 14.6C-13.2 9.8 -11 7.5 -7.6 6.6A10.5 10.5 0 0 0 7.6 6.6C11.3 7.5 13.5 9.8 13.5 14.6L13.5 26.1Q-1.85 25.58 -13.2 19.5Z"/></clipPath>
<path d="M-13.2 19.5L-13.2 14.6C-13.2 9.8 -11 7.5 -7.6 6.6A10.5 10.5 0 0 0 7.6 6.6C11.3 7.5 13.5 9.8 13.5 14.6L13.5 26.1Q-1.85 25.58 -13.2 19.5Z" fill="#5cc0e0"/>
<g clip-path="url(#pb8)"><rect x="2.8" y="12.3" width="4.8" height="1.5" fill="#1b1c3a"/></g>
<path d="M-9 5.2Q-7.6 0 -7.8 -3.5C-7.4 -8.5 -3 -9.9 0 -9.9S7.6 -8.5 8 -3.5Q8 0 9.6 5.2Q7 5 5.8 6.2Q0 10 -5.6 6.2Q-7 5 -9 5.2Z" fill="#1b1c3a"/>
<circle cx="0" cy="0" r="7.3" fill="#5cc0e0"/>
<path d="M-4 -8.4Q1 -5 7.2 -4.6Q6.8 -8 3 -9.4Q0 -10.2 -4 -8.4Z" fill="#1b1c3a"/>
</g>
<g transform="translate(571.2,356.7)">
<path d="M-11.6 24.3L-11.6 14.3C-11.6 9.5 -9.4 7.2 -7.6 6.3A10.5 10.5 0 0 0 7.6 6.3C9.2 7.2 11.4 9.5 11.4 14.3L11.4 15.3Q1.9 23.37 -11.6 24.3Z" fill="#1b1c3a"/>
<circle cx="0" cy="0" r="7.4" fill="#1b1c3a"/>
<g fill="#5cc0e0"><path d="M-8.6 -0.6L-3.6 -4.1L7.3 -1.6L6.5 -8L0 -10.5L-7 -8.5Z"/><circle cx="-7.2" cy="-2.6" r="2.9"/><circle cx="-8" cy="-6" r="2.6"/><circle cx="-6" cy="-8.6" r="3"/><circle cx="-2.6" cy="-9.6" r="2.8"/><circle cx="1" cy="-9.8" r="2.6"/><circle cx="4.2" cy="-8.6" r="2.8"/><circle cx="5.9" cy="-5.8" r="2.6"/><circle cx="5.6" cy="-3.2" r="2.2"/></g>
</g>
<text x="39.28" y="392.55" font-size="15.4" font-weight="bold" fill="#1b1c3a" stroke="#1b1c3a" stroke-width="0.5" stroke-linejoin="round" letter-spacing="0.7" textLength="139.08" lengthAdjust="spacingAndGlyphs">HIGH PERFORMANCE</text>
<text x="59.14" y="409.95" font-size="15.4" font-weight="bold" fill="#1b1c3a" stroke="#1b1c3a" stroke-width="0.5" stroke-linejoin="round" letter-spacing="0.7" textLength="98.55" lengthAdjust="spacingAndGlyphs">COMPUTING IN</text>
<text x="79.37" y="427.25" font-size="15.4" font-weight="bold" fill="#1b1c3a" stroke="#1b1c3a" stroke-width="0.5" stroke-linejoin="round" letter-spacing="0.7" textLength="59.29" lengthAdjust="spacingAndGlyphs">EuroHPC</text>
<text x="256.36" y="253.55" font-size="15.4" font-weight="bold" fill="#1b1c3a" stroke="#1b1c3a" stroke-width="0.5" stroke-linejoin="round" letter-spacing="0.7" textLength="101.05" lengthAdjust="spacingAndGlyphs">DIGITAL TWINS</text>
<text x="416.38" y="249.4" font-size="15.1" font-weight="bold" fill="#2272ad" stroke="#2272ad" stroke-width="0" stroke-linejoin="round" letter-spacing="1.2" textLength="70.37" lengthAdjust="spacingAndGlyphs">DATA LAKE</text>
<text x="542.1" y="298.3" font-size="15.1" font-weight="bold" fill="#2272ad" stroke="#2272ad" stroke-width="0" stroke-linejoin="round" letter-spacing="1.2" textLength="104.96" lengthAdjust="spacingAndGlyphs">CORE PLATFORM</text>
<text x="534.75" y="130.0" font-size="13.3" font-weight="bold" fill="#1b1c3a" stroke="#1b1c3a" stroke-width="0.4" stroke-linejoin="round" letter-spacing="0.7" textLength="43.02" lengthAdjust="spacingAndGlyphs">DIGITAL</text>
<text x="535.47" y="144.4" font-size="13.3" font-weight="bold" fill="#1b1c3a" stroke="#1b1c3a" stroke-width="0.4" stroke-linejoin="round" letter-spacing="0.7" textLength="74.4" lengthAdjust="spacingAndGlyphs">TWIN ENGINE</text>
<text x="684.44" y="133.75" font-size="15.4" font-weight="bold" fill="#1b1c3a" stroke="#1b1c3a" stroke-width="0.5" stroke-linejoin="round" letter-spacing="0.7" textLength="46.5" lengthAdjust="spacingAndGlyphs">USERS</text>
<path id="cd1" d="M451.3 31.8Q482 23.5 527.5 28.7" fill="none"/>
<text font-size="17" font-weight="bold" fill="#65beb1" stroke="#65beb1" stroke-width="0.5" letter-spacing="0.6"><textPath href="#cd1" textLength="76.5" lengthAdjust="spacingAndGlyphs">CO-DESIGN</textPath></text>
<path id="cd2" d="M508.3 427.9Q556.1 425.3 586.5 408" fill="none"/>
<text font-size="17" font-weight="bold" fill="#65beb1" stroke="#65beb1" stroke-width="0.5" letter-spacing="0.6"><textPath href="#cd2" textLength="80.5" lengthAdjust="spacingAndGlyphs">CO-DESIGN</textPath></text>
</svg></body></html>
